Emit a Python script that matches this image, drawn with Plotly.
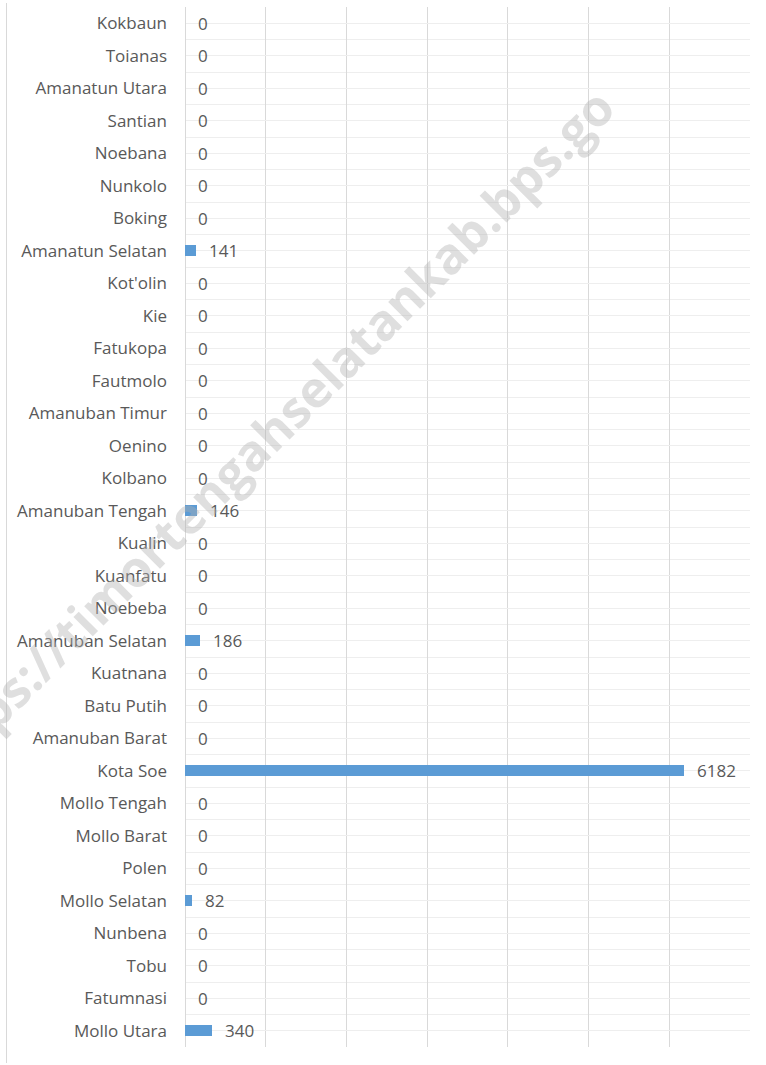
import plotly.graph_objects as go

# Categories listed bottom -> top
categories = [
    "Mollo Utara", "Fatumnasi", "Tobu", "Nunbena", "Mollo Selatan", "Polen",
    "Mollo Barat", "Mollo Tengah", "Kota Soe", "Amanuban Barat", "Batu Putih",
    "Kuatnana", "Amanuban Selatan", "Noebeba", "Kuanfatu", "Kualin",
    "Amanuban Tengah", "Kolbano", "Oenino", "Amanuban Timur", "Fautmolo",
    "Fatukopa", "Kie", "Kot'olin", "Amanatun Selatan", "Boking", "Nunkolo",
    "Noebana", "Santian", "Amanatun Utara", "Toianas", "Kokbaun",
]
values = [
    340, 0, 0, 0, 82, 0,
    0, 0, 6182, 0, 0,
    0, 186, 0, 0, 0,
    146, 0, 0, 0, 0,
    0, 0, 0, 141, 0, 0,
    0, 0, 0, 0, 0,
]
watermark = "https://timortengahselatankab.bps.go"

positions = list(range(len(categories)))
FONT = "Open Sans"
TXT = "#595959"
FS = 17

W, H = 766, 1065
L, R, T, B = 185, 16, 7, 18

fig = go.Figure()
fig.add_trace(go.Bar(
    x=values, y=positions, orientation="h", width=0.35,
    marker=dict(color="#5B9BD5", line=dict(width=0)),
    hoverinfo="skip",
))

for p, v in zip(positions, values):
    fig.add_annotation(x=v, y=p, text=str(v), showarrow=False,
                       xanchor="left", yanchor="middle", xshift=11,
                       font=dict(family=FONT, size=FS, color=TXT))

# watermark
pw, ph = W - L - R, H - T - B
fig.add_annotation(x=(266 - L) / pw, y=(H - B - 436) / ph, xref="paper", yref="paper",
                   xanchor="center", yanchor="middle",
                   text="<b>" + watermark + "</b>",
                   showarrow=False, textangle=-45,
                   font=dict(family=FONT, size=50, color="rgba(175,175,175,0.40)"))

# outer frame line at the left edge
fx = (6.5 - L) / pw
fig.add_shape(type="line", xref="paper", yref="paper",
              x0=fx, x1=fx, y0=(H - B - 1063) / ph, y1=(H - B - 3) / ph,
              line=dict(color="#D9D9D9", width=1))

fig.update_layout(
    width=W, height=H,
    margin=dict(l=L, r=R, t=T, b=B),
    paper_bgcolor="white", plot_bgcolor="white",
    showlegend=False,
    bargap=0,
    font=dict(family=FONT, size=FS, color=TXT),
)
fig.update_xaxes(range=[0, 7000], dtick=1000, showticklabels=False,
                 showgrid=True, gridcolor="#D9D9D9", gridwidth=1,
                 zeroline=True, zerolinecolor="#D9D9D9", zerolinewidth=1,
                 showline=False, fixedrange=True)
fig.update_yaxes(range=[-0.5, len(categories) - 0.5],
                 tickvals=positions, ticktext=categories, ticks="",
                 ticklabelstandoff=17,
                 showgrid=True, gridcolor="#EEEEEE", gridwidth=1,
                 minor=dict(tickvals=[p - 0.5 for p in positions] + [len(categories) - 0.5],
                            showgrid=True, gridcolor="#EEEEEE", gridwidth=1),
                 zeroline=False, showline=False, fixedrange=True,
                 tickfont=dict(family=FONT, size=FS, color=TXT))

fig.write_html("out.html", config={"displayModeBar": False},
               post_script="document.body.style.margin='0';document.body.style.padding='0';")
